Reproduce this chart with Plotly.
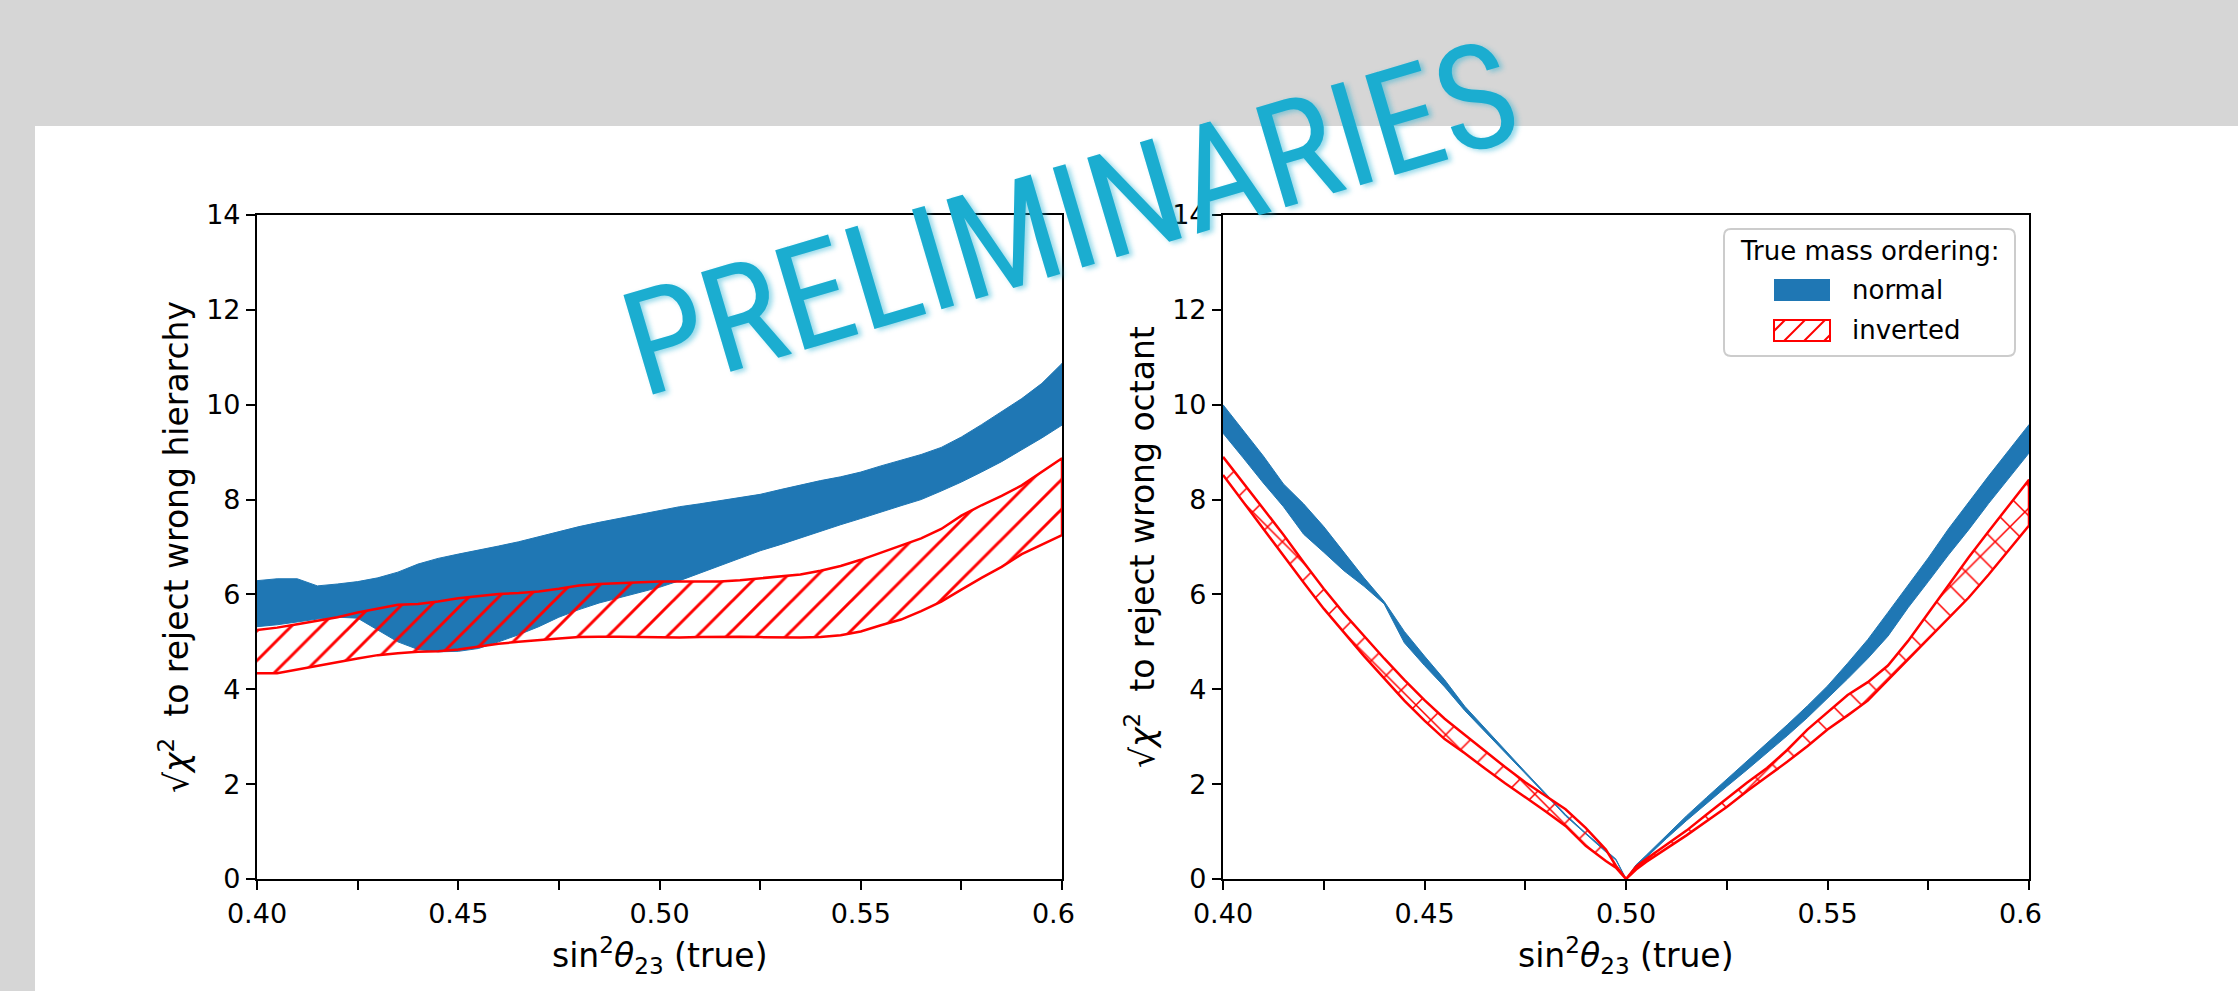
import plotly.graph_objects as go

# ---------------- data ----------------
x_hier = [0.400, 0.405, 0.410, 0.415, 0.420, 0.425, 0.430, 0.435, 0.440, 0.445,
          0.450, 0.455, 0.460, 0.465, 0.470, 0.475, 0.480, 0.485, 0.490, 0.495,
          0.500, 0.505, 0.510, 0.515, 0.520, 0.525, 0.530, 0.535, 0.540, 0.545,
          0.550, 0.555, 0.560, 0.565, 0.570, 0.575, 0.580, 0.585, 0.590, 0.595,
          0.600]
normal_hier_hi = [6.29, 6.33, 6.33, 6.18, 6.22, 6.27, 6.35, 6.47, 6.64, 6.76,
                  6.85, 6.93, 7.02, 7.11, 7.22, 7.33, 7.43, 7.52, 7.60, 7.69,
                  7.77, 7.85, 7.91, 7.98, 8.04, 8.11, 8.21, 8.31, 8.40, 8.48,
                  8.58, 8.71, 8.83, 8.95, 9.10, 9.32, 9.58, 9.85, 10.13, 10.45,
                  10.87]
normal_hier_lo = [5.32, 5.36, 5.42, 5.48, 5.52, 5.50, 5.25, 5.00, 4.84, 4.79,
                  4.80, 4.86, 5.00, 5.15, 5.32, 5.52, 5.68, 5.82, 5.93, 6.04,
                  6.15, 6.29, 6.44, 6.60, 6.76, 6.92, 7.05, 7.18, 7.33, 7.47,
                  7.60, 7.73, 7.87, 8.00, 8.18, 8.37, 8.58, 8.80, 9.05, 9.30,
                  9.57]
inverted_hier_hi = [5.25, 5.30, 5.37, 5.45, 5.52, 5.62, 5.70, 5.78, 5.80, 5.85,
                    5.92, 5.97, 6.01, 6.03, 6.06, 6.12, 6.19, 6.22, 6.24, 6.26,
                    6.27, 6.27, 6.27, 6.27, 6.30, 6.34, 6.37, 6.42, 6.50, 6.60,
                    6.73, 6.88, 7.04, 7.18, 7.38, 7.66, 7.88, 8.08, 8.30, 8.58,
                    8.87]
inverted_hier_lo = [4.34, 4.34, 4.41, 4.50, 4.57, 4.65, 4.72, 4.76, 4.79, 4.80,
                    4.84, 4.90, 4.96, 5.00, 5.04, 5.07, 5.10, 5.11, 5.11, 5.10,
                    5.10, 5.09, 5.10, 5.11, 5.11, 5.10, 5.09, 5.09, 5.10, 5.14,
                    5.22, 5.35, 5.47, 5.65, 5.85, 6.10, 6.35, 6.58, 6.85, 7.05,
                    7.25]

x_oct = [0.400, 0.405, 0.410, 0.415, 0.420, 0.425, 0.430, 0.435, 0.440, 0.445,
         0.450, 0.455, 0.460, 0.465, 0.470, 0.475, 0.480, 0.485, 0.490, 0.495,
         0.4975, 0.500, 0.5025,
         0.505, 0.510, 0.515, 0.520, 0.525, 0.530, 0.535, 0.540, 0.545, 0.550,
         0.555, 0.560, 0.565, 0.570, 0.575, 0.580, 0.585, 0.590, 0.595, 0.600]
normal_oct_hi = [10.00, 9.46, 8.92, 8.33, 7.91, 7.43, 6.88, 6.35, 5.85, 5.22,
                 4.70, 4.20, 3.64, 3.17, 2.72, 2.26, 1.81, 1.36, 0.97, 0.60,
                 0.42, 0.00, 0.30,
                 0.50, 0.92, 1.33, 1.72, 2.10, 2.47, 2.86, 3.25, 3.65, 4.07,
                 4.55, 5.05, 5.62, 6.20, 6.77, 7.38, 7.95, 8.50, 9.04, 9.58]
normal_oct_lo = [9.40, 8.88, 8.35, 7.85, 7.27, 6.89, 6.50, 6.17, 5.80, 4.98,
                 4.50, 4.05, 3.55, 3.10, 2.66, 2.22, 1.78, 1.33, 0.94, 0.57,
                 0.40, 0.00, 0.25,
                 0.45, 0.85, 1.23, 1.60, 1.95, 2.30, 2.65, 3.02, 3.40, 3.80,
                 4.22, 4.65, 5.12, 5.72, 6.27, 6.83, 7.36, 7.92, 8.45, 8.98]
inverted_oct_hi = [8.90, 8.36, 7.82, 7.26, 6.68, 6.12, 5.60, 5.12, 4.65, 4.20,
                   3.77, 3.38, 3.04, 2.69, 2.36, 2.04, 1.76, 1.47, 1.08, 0.62,
                   0.28, 0.00, 0.26,
                   0.42, 0.72, 1.02, 1.36, 1.70, 2.03, 2.34, 2.72, 3.15, 3.52,
                   3.88, 4.15, 4.50, 5.02, 5.60, 6.20, 6.78, 7.33, 7.88, 8.42]
inverted_oct_lo = [8.52, 7.96, 7.39, 6.82, 6.25, 5.70, 5.20, 4.70, 4.22, 3.76,
                   3.34, 2.95, 2.65, 2.33, 2.02, 1.72, 1.43, 1.12, 0.70, 0.38,
                   0.24, 0.00, 0.20,
                   0.36, 0.64, 0.92, 1.22, 1.52, 1.85, 2.16, 2.47, 2.80, 3.15,
                   3.45, 3.76, 4.20, 4.62, 5.05, 5.50, 5.93, 6.42, 6.93, 7.45]

x_tickvals = [0.400, 0.425, 0.450, 0.475, 0.500, 0.525, 0.550, 0.575, 0.600]
x_ticktext = ["0.40", "", "0.45", "", "0.50", "", "0.55", "",
              "0.6<span style='color:rgba(0,0,0,0)'>0</span>"]
y_tickvals = [0, 2, 4, 6, 8, 10, 12, 14]

legend_title = "True mass ordering:"
legend_labels = ["normal", "inverted"]

# ---------------- style ----------------
FONT = "DejaVu Sans"
BLUE = "#1f77b4"
RED = "#ff0000"
W, H = 2238, 991


def px_x(v):
    return v / W


def px_y(v):
    return 1 - v / H


def band_polygon(x, lo, hi):
    return list(x) + list(x)[::-1], list(hi) + list(lo)[::-1]


fig = go.Figure()

panels = [
    ("x", "y", x_hier, normal_hier_lo, normal_hier_hi, inverted_hier_lo, inverted_hier_hi, "/"),
    ("x2", "y2", x_oct, normal_oct_lo, normal_oct_hi, inverted_oct_lo, inverted_oct_hi, "x"),
]
for xa, ya, xs, nlo, nhi, ilo, ihi, hatch in panels:
    px, py = band_polygon(xs, nlo, nhi)
    fig.add_trace(go.Scatter(
        x=px, y=py, xaxis=xa, yaxis=ya, mode="lines", fill="toself",
        fillcolor=BLUE, line=dict(color=BLUE, width=1),
        name=legend_labels[0], showlegend=False, hoverinfo="skip"))
    px, py = band_polygon(xs, ilo, ihi)
    fig.add_trace(go.Scatter(
        x=px, y=py, xaxis=xa, yaxis=ya, mode="lines", fill="toself",
        fillcolor="rgba(0,0,0,0)",
        fillpattern=dict(shape=hatch, fgcolor=RED, bgcolor="rgba(0,0,0,0)",
                         fgopacity=1, size=21, solidity=0.14),
        line=dict(color=RED, width=2.5),
        name=legend_labels[1], showlegend=False, hoverinfo="skip"))

dom_y = [px_y(879), px_y(215)]
dom_x1 = [px_x(257), px_x(1062)]
dom_x2 = [px_x(1223), px_x(2029)]

axis_common = dict(
    showgrid=False, zeroline=False, showline=True, linecolor="black",
    linewidth=2.2, mirror=True, ticks="outside", ticklen=9, tickwidth=2.2,
    tickcolor="black", tickfont=dict(family=FONT, size=27, color="black"),
    automargin=False,
)

# ---- hand-made legend box (matplotlib style) ----
lx0, lx1, ly0, ly1, r = 1724, 2015, 229, 356, 7
legend_box = (
    f"M{lx0 + r},{ly0} L{lx1 - r},{ly0} Q{lx1},{ly0} {lx1},{ly0 + r} "
    f"L{lx1},{ly1 - r} Q{lx1},{ly1} {lx1 - r},{ly1} L{lx0 + r},{ly1} "
    f"Q{lx0},{ly1} {lx0},{ly1 - r} L{lx0},{ly0 + r} Q{lx0},{ly0} {lx0 + r},{ly0} Z"
)


def path_paper(p):
    out = []
    for tok in p.split(" "):
        cmd = ""
        if tok and tok[0].isalpha():
            cmd, tok = tok[0], tok[1:]
        if "," in tok:
            a, b = tok.split(",")
            tok = f"{px_x(float(a)):.6f},{px_y(float(b)):.6f}"
        out.append(cmd + tok)
    return " ".join(out)


shapes = [dict(type="rect", xref="paper", yref="paper",
               x0=px_x(35), x1=1, y0=0, y1=px_y(126),
               fillcolor="white", line=dict(width=0), layer="below"),
          dict(type="path", xref="paper", yref="paper", path=path_paper(legend_box),
               fillcolor="rgba(255,255,255,0.8)", line=dict(color="#cccccc", width=2),
               layer="above")]
shapes.append(dict(type="rect", xref="paper", yref="paper",
                   x0=px_x(1774), x1=px_x(1830), y0=px_y(301), y1=px_y(279),
                   fillcolor=BLUE, line=dict(width=0), layer="above"))
px0, px1, py0, py1 = 1774, 1830, 320, 341
for s in [(1774, 331, 1785, 320), (1784, 341, 1805, 320), (1804, 341, 1825, 320),
          (1824, 341, 1830, 335)]:
    shapes.append(dict(type="line", xref="paper", yref="paper",
                       x0=px_x(s[0]), y0=px_y(s[1]), x1=px_x(s[2]), y1=px_y(s[3]),
                       line=dict(color=RED, width=2), layer="above"))
shapes.append(dict(type="rect", xref="paper", yref="paper",
                   x0=px_x(px0), x1=px_x(px1), y0=px_y(py1), y1=px_y(py0),
                   fillcolor="rgba(0,0,0,0)", line=dict(color=RED, width=2),
                   layer="above"))

fig.update_layout(
    width=W, height=H, autosize=False,
    margin=dict(l=0, r=0, t=0, b=0, pad=0, autoexpand=False),
    paper_bgcolor="#d6d6d6", plot_bgcolor="white",
    font=dict(family=FONT, size=27, color="black"),
    xaxis=dict(domain=dom_x1, range=[0.4, 0.6], anchor="y",
               tickvals=x_tickvals, ticktext=x_ticktext, **axis_common),
    yaxis=dict(domain=dom_y, range=[0, 14], anchor="x",
               tickvals=y_tickvals, **axis_common),
    xaxis2=dict(domain=dom_x2, range=[0.4, 0.6], anchor="y2",
                tickvals=x_tickvals, ticktext=x_ticktext, **axis_common),
    yaxis2=dict(domain=dom_y, range=[0, 14], anchor="x2",
                tickvals=y_tickvals, **axis_common),
    showlegend=False,
    shapes=shapes,
)

ytitle_l = "√<i>χ</i><sup>2</sup>  to reject wrong hierarchy"
ytitle_r = "√<i>χ</i><sup>2</sup>  to reject wrong octant"
xtitle = "sin<sup>2</sup><i>θ</i><sub>23</sub> (true)"
ann_font = dict(family=FONT, size=33, color="black")
annotations = [
    dict(text=ytitle_l, x=px_x(174), y=px_y(547), textangle=-90),
    dict(text=ytitle_r, x=px_x(1140), y=px_y(547), textangle=-90),
    dict(text=xtitle, x=px_x(659.5), y=px_y(955)),
    dict(text=xtitle, x=px_x(1626), y=px_y(955)),
]
for a in annotations:
    fig.add_annotation(xref="paper", yref="paper", showarrow=False,
                       xanchor="center", yanchor="middle", font=ann_font, **a)

leg_font = dict(family=FONT, size=26, color="black")
fig.add_annotation(text=legend_title, xref="paper", yref="paper", showarrow=False,
                   x=px_x(1869.5), y=px_y(251), xanchor="center", yanchor="middle",
                   font=leg_font)
for lbl, yc in zip(legend_labels, [290, 330.5]):
    fig.add_annotation(text=lbl, xref="paper", yref="paper", showarrow=False,
                       x=px_x(1850), y=px_y(yc), xanchor="left", yanchor="middle",
                       font=leg_font)

fig.add_annotation(
    text="PRELIMINARIES", xref="paper", yref="paper", showarrow=False,
    x=px_x(1070), y=px_y(219), xanchor="center", yanchor="middle",
    textangle=-16.5,
    font=dict(family="Roboto Condensed, Liberation Sans Narrow, DejaVu Sans Condensed, Roboto, sans-serif",
              size=146, color="#1badd0",
              shadow="3px 3px 5px rgba(27,173,208,0.45)"),
)

fig.write_html("out.html")
